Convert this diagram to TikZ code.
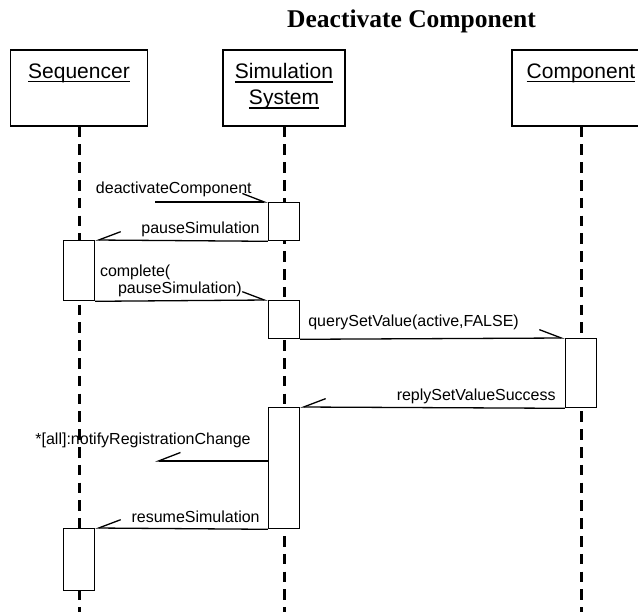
\documentclass[tikz,border=0pt]{standalone}
\usepackage{fontspec}
\setmainfont{Liberation Sans}
\newfontfamily\titlefont{Liberation Serif}
\usetikzlibrary{arrows.meta,positioning}
\newcommand{\uname}[1]{\setbox0\hbox{#1}\rlap{\vrule width\wd0 height -2.6pt depth 3.9pt}\box0}
\tikzset{
  lifebox/.style={draw, line width=1.3pt, minimum width=#1, minimum height=76pt, inner sep=0pt},
  lifename/.style={inner sep=0pt, anchor=north, align=center, font=\fontsize{21}{26}\selectfont},
  lifeline/.style={line width=3pt, dash pattern=on 10.5pt off 7.3pt},
  act/.style={draw, fill=white, line width=1.3pt, minimum width=31pt, inner sep=0pt, anchor=north},
  msgR/.style={line width=1.3pt, -{Straight Barb[left, length=22pt, width=17pt]}},
  msgL/.style={line width=1.3pt, -{Straight Barb[right, length=22pt, width=17pt]}},
  msgtext/.style={inner sep=0pt, font=\fontsize{16}{16.5}\selectfont}
}
\begin{document}
\begin{tikzpicture}[x=1pt, y=-1pt]
\useasboundingbox (0,0) rectangle (638,612);
\node[anchor=base, inner sep=0pt, font=\titlefont\bfseries\fontsize{25.5}{30}\selectfont] (title) at (411.5,28) {Deactivate Component};
\node[lifebox=137pt] (seq) at (79,88) {};
\node[lifebox=122pt] (sim) at (284,88) {};
\node[lifebox=138pt] (comp) at (581,88) {};
\node[lifename, below=14pt of seq.north] (seqname) {\uname{Sequencer}};
\node[lifename, below=14pt of sim.north] (simname) {\uname{Simulation}\\\uname{System}};
\node[lifename, below=14pt of comp.north] (compname) {\uname{Component}};
\coordinate (bottom) at (0,616);
\draw[lifeline] (seq.south) -- (seq.south |- bottom);
\draw[lifeline] (sim.south) -- (sim.south |- bottom);
\draw[lifeline] (comp.south) -- (comp.south |- bottom);
\node[act, minimum height=38pt] (sim1) at (284,202) {};
\node[act, minimum height=60pt] (seq1) at (79,240) {};
\node[act, minimum height=38pt] (sim2) at (284,300) {};
\node[act, minimum height=69pt] (comp1) at (581,338) {};
\node[act, minimum height=121pt] (sim3) at (284,407) {};
\node[act, minimum height=62pt] (seq2) at (79,528) {};
\coordinate (deactstart) at (155,202);
\coordinate (notifyend) at (155,461);
\draw[msgR] (deactstart) -- (sim1.north west);
\draw[msgL] (sim1.south west) -- (seq1.north east);
\draw[msgR] (seq1.south east) -- (sim2.north west);
\draw[msgR] (sim2.south east) -- (comp1.north west);
\draw[msgL] (comp1.south west) -- (sim3.north east);
\draw[msgL] (notifyend -| sim3.west) -- (notifyend);
\draw[msgL] (sim3.south west) -- (seq2.north east);
\node[msgtext, anchor=base east] (deactlabel) at ([xshift=-16pt, yshift=8.5pt]sim1.north west) {deactivateComponent};
\node[msgtext, anchor=base east] (pauselabel) at ([xshift=-8pt, yshift=8pt]sim1.south west) {pauseSimulation};
\node[msgtext, anchor=south east, align=left] (completelabel) at ([xshift=-26pt, yshift=3pt]sim2.north west) {complete(\\\hspace*{18pt}pauseSimulation)};
\node[msgtext, anchor=base west] (querylabel) at ([xshift=8pt, yshift=13pt]sim2.south east) {querySetValue(active,FALSE)};
\node[msgtext, anchor=base east] (replylabel) at ([xshift=-9pt, yshift=8pt]comp1.south west) {replySetValueSuccess};
\node[msgtext, anchor=base east] (notifylabel) at ([xshift=-17pt, yshift=16pt]notifyend -| sim3.west) {*[all]:notifyRegistrationChange};
\node[msgtext, anchor=base east] (resumelabel) at ([xshift=-8pt, yshift=7pt]sim3.south west) {resumeSimulation};
\end{tikzpicture}
\end{document}
